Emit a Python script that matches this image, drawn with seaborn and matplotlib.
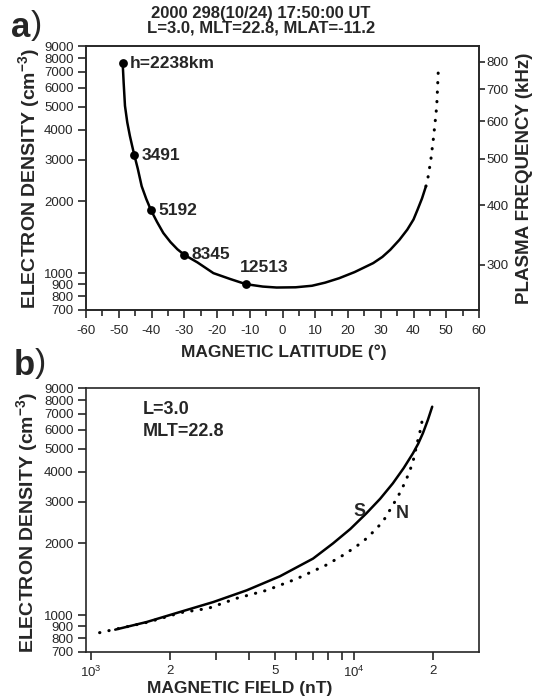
import numpy as np
import pandas as pd
import seaborn as sns
from matplotlib import pyplot as plt
from matplotlib import ticker as mticker

# Panel a: density along the field line vs magnetic latitude
lat_solid = [-48.8, -48.5, -48.1, -47.4, -46.6, -45.9, -45.25, -44.2, -43.0,
             -41.6, -40.15, -38.3, -36.4, -34.2, -32.1, -30.0, -26.0, -21.1,
             -16.0, -11.2, -6.0, -1.8, 4.0, 9.0, 13.0, 17.3, 22.0, 27.7, 30.5,
             32.9, 35.7, 38.1, 40.0, 41.25, 42.6, 43.8]
ne_solid = [7618, 6300, 5046, 4300, 3772, 3420, 3134, 2750, 2318,
            2050, 1837, 1640, 1475, 1350, 1260, 1194, 1110, 1000,
            945, 899, 878, 870, 872, 885, 912, 952, 1010, 1102, 1170,
            1253, 1380, 1523, 1680, 1849, 2060, 2318]
lat_dotted = [43.8, 44.5, 45.3, 46.05, 46.6, 47.1, 47.6]
ne_dotted = [2318, 2555, 3000, 3654, 4300, 5046, 7260]

dot_lat = [-48.8, -45.25, -40.15, -30.0, -11.2]
dot_ne = [7618, 3134, 1837, 1194, 899]
dot_labels = ['h=2238km', '3491', '5192', '8345', '12513']

# Panel b: density vs magnetic field, south (S) and north (N) branches
b_south = [1234, 1628, 2178, 2917, 3908, 5232, 6998, 8337, 9700, 11170,
           12600, 14090, 15500, 16810, 17600, 18340, 19150, 19900]
ne_south = [869, 936, 1031, 1135, 1271, 1456, 1728, 2002, 2300, 2677,
            3080, 3578, 4150, 4786, 5250, 5810, 6600, 7510]
b_north = [1076, 1250, 1650, 2200, 2793, 3581, 4656, 6050, 7870, 9300, 10840,
           11900, 12910, 13800, 14730, 15500, 16220, 16810, 17560, 18070, 18340]
ne_north = [844, 875, 935, 1025, 1068, 1177, 1271, 1420, 1625, 1810, 2035,
            2245, 2469, 2790, 3146, 3520, 3943, 4411, 5444, 6190, 6930]

ne_ticks = [700, 800, 900, 1000, 2000, 3000, 4000, 5000, 6000, 7000, 8000, 9000]
lat_ticks = list(range(-60, 61, 10))
fp_ticks = [300, 400, 500, 600, 700, 800]

sns.set_style("ticks")
plt.rcParams['font.family'] = ['Liberation Sans', 'DejaVu Sans']
plt.rcParams['mathtext.default'] = 'regular'
plt.rcParams['axes.linewidth'] = 1.2

W, H = 533, 699
def box(l, t, r, b):
    return [l / W, 1 - b / H, (r - l) / W, (b - t) / H]

fig = plt.figure(figsize=(W / 100, H / 100), dpi=100)
ax1 = fig.add_axes(box(86, 46, 479, 310))
ax2 = fig.add_axes(box(86, 388, 479, 652))

dotted = dict(color='black', linewidth=2.2, linestyle=(0, (0.1, 3.0)),
              dash_capstyle='round')

# ---------- panel a ----------
sns.lineplot(x=lat_solid, y=ne_solid, ax=ax1, color='black', linewidth=1.8,
             sort=False, estimator=None)
sns.lineplot(x=lat_dotted, y=ne_dotted, ax=ax1, sort=False, estimator=None, **dotted)
sns.scatterplot(x=dot_lat, y=dot_ne, ax=ax1, color='black', s=40, linewidth=0, zorder=3)

for i, (x, y, lab) in enumerate(zip(dot_lat, dot_ne, dot_labels)):
    if i == len(dot_labels) - 1:
        ax1.annotate(lab, xy=(x, y), xytext=(13.5, 12), textcoords='offset points',
                     ha='center', va='center', fontsize=12.5, fontweight='bold')
    else:
        ax1.annotate(lab, xy=(x, y), xytext=(5.3, 0), textcoords='offset points',
                     ha='left', va='center', fontsize=12.5, fontweight='bold')

ax1.set_yscale('log')
ax1.set_xlim(-60, 60)
ax1.set_ylim(700, 9000)
ax1.xaxis.set_major_locator(mticker.FixedLocator(lat_ticks))
ax1.xaxis.set_minor_locator(mticker.MultipleLocator(5))
ax1.set_xticklabels([str(t) for t in lat_ticks])
ax1.yaxis.set_major_locator(mticker.FixedLocator(ne_ticks))
ax1.yaxis.set_minor_locator(mticker.NullLocator())
ax1.set_yticklabels([str(t) for t in ne_ticks])
ax1.tick_params(direction='out', length=6, width=1.2, labelsize=9.5, pad=3)
ax1.tick_params(axis='x', pad=5)
ax1.tick_params(which='minor', direction='out', length=4, width=1.2)

axr = ax1.twinx()
axr.set_yscale('log')
axr.set_ylim(700, 9000)
axr.yaxis.set_major_locator(mticker.FixedLocator([(f / 9.1) ** 2 for f in fp_ticks]))
axr.yaxis.set_minor_locator(mticker.NullLocator())
axr.set_yticklabels([str(f) for f in fp_ticks])
axr.tick_params(direction='out', length=4, width=1.2, labelsize=9.5, pad=1.5)

ax1.text(-0.145, 0.5, 'ELECTRON DENSITY (cm$^{-3}$)', transform=ax1.transAxes,
         rotation=90, ha='center', va='center', fontsize=14, fontweight='bold')
ax1.text(1.115, 0.5, 'PLASMA FREQUENCY (kHz)', transform=ax1.transAxes,
         rotation=90, ha='center', va='center', fontsize=13.5, fontweight='bold')
ax1.text(0.503, -0.159, 'MAGNETIC LATITUDE (°)', transform=ax1.transAxes,
         ha='center', va='center', fontsize=12.5, fontweight='bold')

fig.text(261 / W, 1 - 13.5 / H, '2000 298(10/24) 17:50:00 UT',
         ha='center', va='center', fontsize=12, fontweight='bold')
fig.text(261 / W, 1 - 28 / H, 'L=3.0, MLT=22.8, MLAT=-11.2',
         ha='center', va='center', fontsize=12, fontweight='bold')
fig.text(11 / W, 1 - 37 / H, 'a', fontsize=25, fontweight='bold', va='baseline')
fig.text(31 / W, 1 - 34 / H, ')', fontsize=24, va='baseline')

# ---------- panel b ----------
sns.lineplot(x=b_south, y=ne_south, ax=ax2, color='black', linewidth=1.8,
             sort=False, estimator=None)
sns.lineplot(x=b_north, y=ne_north, ax=ax2, sort=False, estimator=None, **dotted)

ax2.set_xscale('log')
ax2.set_yscale('log')
ax2.set_xlim(955, 30000)
ax2.set_ylim(700, 9000)
ax2.xaxis.set_major_locator(mticker.FixedLocator([1e3, 1e4]))
ax2.set_xticklabels(['$10^3$', '$10^4$'])
minor_b = [m * d for d in (1e3, 1e4) for m in range(2, 10) if m * d < 30000]
ax2.xaxis.set_minor_locator(mticker.FixedLocator(minor_b))
ax2.xaxis.set_minor_formatter(mticker.FuncFormatter(
    lambda v, p: str(int(round(v / 10 ** np.floor(np.log10(v)))))
    if round(v / 10 ** np.floor(np.log10(v))) in ((2, 5) if v < 1e4 else (2,)) else ''))
ax2.yaxis.set_major_locator(mticker.FixedLocator(ne_ticks))
ax2.yaxis.set_minor_locator(mticker.NullLocator())
ax2.set_yticklabels([str(t) for t in ne_ticks])
ax2.tick_params(which='both', direction='out', length=6, width=1.2, labelsize=9.5, pad=3)

ax2.text(0.145, 0.917, 'L=3.0', transform=ax2.transAxes, ha='left', va='center',
         fontsize=13, fontweight='bold')
ax2.text(0.145, 0.834, 'MLT=22.8', transform=ax2.transAxes, ha='left', va='center',
         fontsize=13, fontweight='bold')
ax2.text(0.695, 0.534, 'S', transform=ax2.transAxes, ha='center', va='center',
         fontsize=13, fontweight='bold')
ax2.text(0.804, 0.523, 'N', transform=ax2.transAxes, ha='center', va='center',
         fontsize=13, fontweight='bold')

ax2.text(-0.15, 0.49, 'ELECTRON DENSITY (cm$^{-3}$)', transform=ax2.transAxes,
         rotation=90, ha='center', va='center', fontsize=14, fontweight='bold')
ax2.text(0.392, -0.14, 'MAGNETIC FIELD (nT)', transform=ax2.transAxes,
         ha='center', va='center', fontsize=12.5, fontweight='bold')

fig.text(14 / W, 1 - 375 / H, 'b', fontsize=25, fontweight='bold', va='baseline')
fig.text(35 / W, 1 - 372 / H, ')', fontsize=24, va='baseline')

fig.savefig('out.png', dpi=100)
